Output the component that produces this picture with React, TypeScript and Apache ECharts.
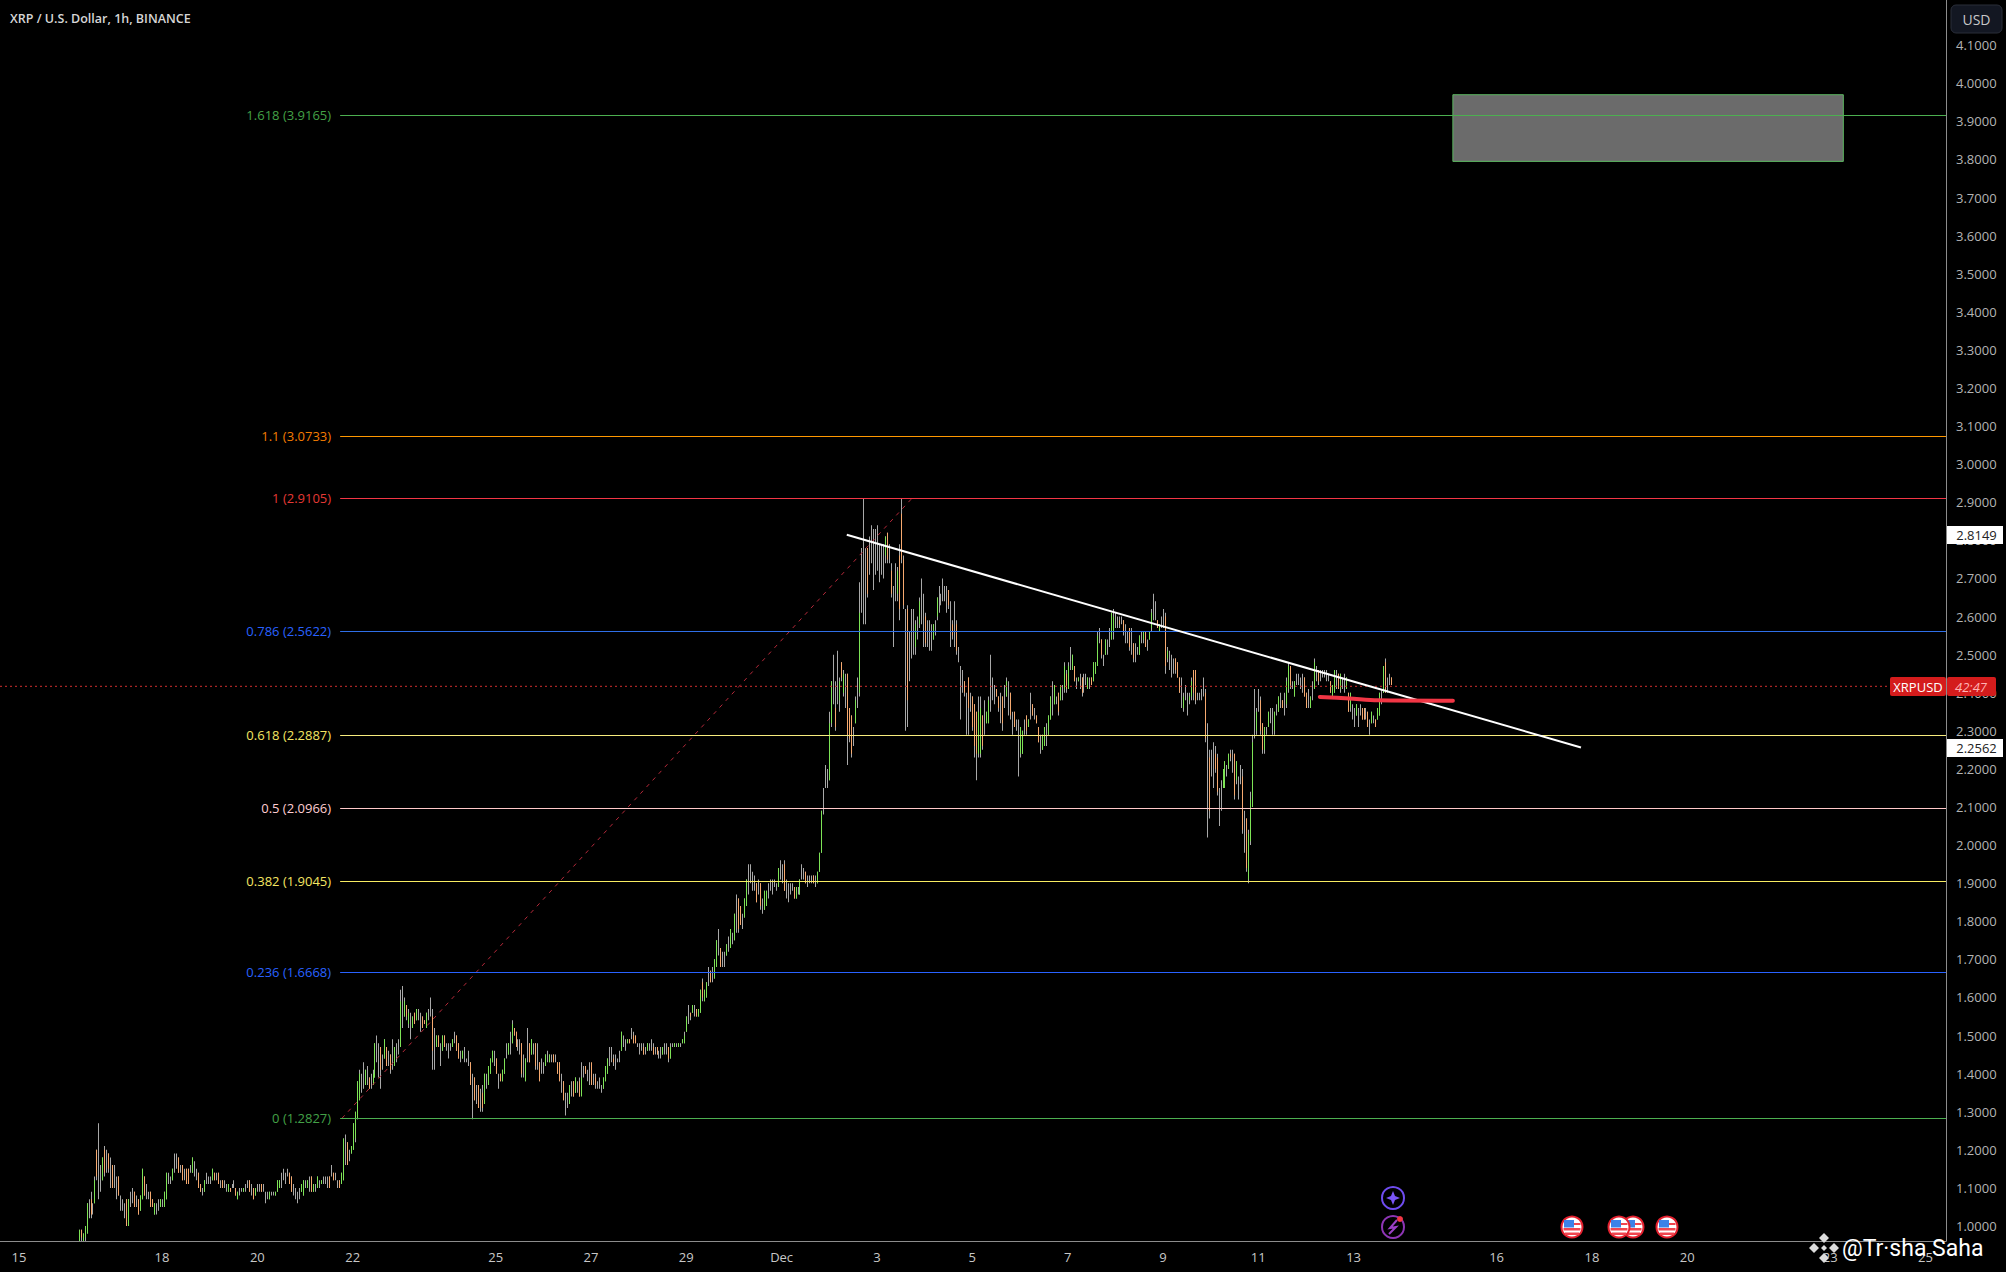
import React, { useEffect, useRef } from "react";
import * as echarts from "echarts";

// Hourly bars. Prices are in US cents. First bar: 16 Nov 06:00.
const firstBarHour = 30;
const highs = [
99,99,98,100,106,107,109,106,113,120,127,116,118,121,120,119,118,116,
116,113,113,108,107,106,107,107,109,110,109,108,107,108,115,113,111,109,109,107,106,106,107,107,
107,109,114,114,113,115,119,119,118,116,116,115,115,115,116,118,117,115,114,111,110,112,114,113,
113,115,114,114,114,112,112,112,111,111,110,111,112,110,109,110,110,110,111,112,112,111,110,110,
111,111,111,111,109,109,109,109,109,109,112,112,114,115,114,115,114,113,111,110,109,110,111,112,
112,112,113,113,111,111,113,112,112,113,113,113,113,116,114,114,112,112,114,123,124,122,120,121,127,
130,138,141,140,143,141,142,139,140,141,148,150,148,147,145,149,147,146,145,149,147,148,149,162,
163,160,158,157,156,155,156,157,157,156,155,154,156,157,160,157,152,150,150,148,150,150,148,148,
148,149,151,150,148,146,146,147,144,146,143,140,139,137,137,136,137,140,140,142,144,146,146,144,
140,140,141,144,148,148,151,154,152,151,149,149,148,145,144,152,148,149,148,148,148,143,144,143,
145,146,145,145,145,145,143,143,140,138,135,135,137,138,138,139,138,139,143,142,142,141,143,140,
140,140,138,139,137,139,142,144,147,147,145,145,144,146,151,150,149,149,149,152,151,150,148,148,
148,148,147,148,148,149,148,147,147,146,147,147,148,148,147,148,148,148,148,148,148,149,151,155,158,156,158,158,157,157,
162,165,162,164,168,167,168,170,175,178,173,172,172,174,176,178,177,182,187,186,184,182,186,191,195,
195,193,192,190,191,190,186,188,188,190,191,191,191,190,194,196,195,196,191,190,190,190,189,189,
189,191,195,194,193,192,192,192,192,192,193,198,
209,215,221,220,235,243,250,243,251,244,248,246,245,245,236,234,231,239,244,269,278,291,278,278,
281,284,283,283,284,279,279,279,281,282,279,274,268,274,273,279,291,276,262,263,256,262,262,259,
260,265,270,266,261,259,259,258,258,259,265,268,266,270,268,268,267,264,259,264,259,252,247,246,
243,240,244,240,239,237,235,239,239,234,238,235,239,250,244,242,241,239,240,239,242,244,243,240,
235,235,233,233,231,230,233,234,233,240,237,236,234,231,229,229,231,232,234,239,243,242,239,240,
242,242,248,246,248,252,250,247,244,244,245,244,245,245,244,244,244,248,248,256,257,254,250,254,
254,257,261,262,261,260,260,260,259,258,256,257,257,253,253,252,255,256,256,256,254,256,
262,266,264,259,258,260,262,261,252,251,250,249,249,248,244,244,240,242,240,240,244,246,246,240,
240,241,244,241,232,225,225,227,226,224,215,217,220,222,221,224,225,225,224,222,218,221,220,209,
207,204,214,229,241,236,241,239,232,231,231,235,236,236,235,237,239,240,238,240,244,248,247,243,
243,245,245,244,245,244,240,241,239,243,249,247,246,246,246,246,246,245,243,242,246,246,245,245,244,
245,244,240,240,237,236,237,236,237,236,236,236,235,233,235,234,233,236,240,241,247,249,244,245,244,
];
const lows = [
96,96,96,96,98,102,102,103,106,112,107,109,112,113,114,114,110,110,
110,107,108,104,104,102,100,100,105,106,105,105,103,104,107,108,107,107,105,105,103,103,104,105,
105,105,107,111,111,112,114,115,114,114,112,112,111,111,114,114,113,112,110,109,108,109,111,111,
111,112,112,112,111,110,110,110,109,109,109,110,110,108,107,108,109,109,109,110,109,108,107,108,
109,109,109,109,106,107,107,108,108,108,109,110,110,112,111,113,111,109,108,107,106,107,109,108,
110,110,109,109,109,109,110,110,111,111,111,110,110,113,112,112,110,110,111,112,116,116,117,119,120,
122,128,133,135,136,137,137,136,136,137,139,143,139,136,141,144,142,142,140,141,142,143,145,147,
152,155,154,152,149,152,153,154,154,151,152,153,152,154,155,141,141,147,147,142,146,147,146,144,
146,147,148,146,144,143,144,143,143,142,137,128,133,132,131,130,130,132,136,137,140,143,142,140,
136,138,138,140,144,145,145,148,150,147,146,145,139,139,138,143,143,145,145,141,141,138,140,140,
142,143,143,143,143,143,140,138,135,133,129,131,132,134,134,135,135,134,138,139,140,138,137,137,
137,136,136,136,135,136,138,140,142,143,142,141,143,143,146,147,146,148,148,149,148,148,147,145,
146,145,145,146,146,146,145,145,145,144,144,145,145,145,143,144,147,147,147,147,147,148,148,151,153,154,156,155,155,155,
156,159,159,160,163,164,164,165,168,171,168,168,168,171,172,173,174,175,177,177,179,178,181,184,187,
190,188,188,185,187,183,182,183,184,186,188,187,189,188,189,191,190,188,186,185,187,188,186,186,
187,187,191,191,190,189,190,190,190,189,190,193,
198,208,215,215,217,231,237,230,237,235,243,239,236,221,227,223,226,232,236,239,261,258,258,265,
271,274,267,271,272,269,271,270,274,274,274,265,252,264,264,259,274,262,230,231,243,249,250,250,
254,257,258,252,252,252,251,251,254,255,259,261,263,264,264,261,262,252,254,252,250,248,233,240,
239,229,229,235,230,223,217,223,223,225,229,232,232,235,238,237,239,235,232,230,236,239,234,233,
229,231,230,218,223,224,229,229,231,233,234,233,232,227,224,225,226,226,229,233,234,237,237,234,
238,238,240,240,241,246,246,243,241,243,241,239,240,242,241,241,242,243,245,247,253,249,247,250,
250,252,254,254,257,257,257,258,255,253,253,251,250,248,248,250,250,253,253,252,251,254,
256,259,259,257,256,257,257,245,248,246,244,245,245,244,240,236,235,238,234,237,238,238,237,238,
238,238,239,227,202,207,218,215,219,213,205,209,215,215,218,220,222,219,212,216,212,216,203,198,
193,190,200,210,228,229,235,229,224,224,229,231,232,229,229,234,235,236,236,234,236,240,241,241,
239,242,242,241,240,239,236,236,236,238,241,243,242,243,244,244,243,243,240,239,240,241,241,240,241,
240,241,235,235,233,231,234,231,234,233,233,233,231,229,232,232,231,233,234,237,240,240,240,242,242,
];
const opens = [
96,99,96,97,98,104,107,105,106,120,112,112,112,120,117,119,114,116,
113,110,113,106,105,104,107,100,107,108,109,106,107,104,107,113,109,108,109,107,103,104,105,105,
106,105,107,112,112,112,116,117,118,115,116,113,115,115,115,114,115,113,114,111,109,109,112,112,
112,112,114,113,114,111,112,111,110,109,110,110,111,110,107,109,109,109,110,111,112,109,110,108,
110,110,111,110,108,108,107,108,108,108,109,110,112,113,112,114,114,113,110,108,108,108,109,108,
111,110,111,113,109,110,110,111,111,112,112,111,113,114,114,113,111,112,111,112,120,122,118,119,120,
123,128,133,138,140,137,140,139,138,137,139,146,144,147,143,144,147,144,145,145,142,146,147,147,
158,155,158,153,153,152,156,154,155,153,155,154,152,155,157,155,148,147,150,146,146,150,147,146,
147,147,150,150,148,145,144,145,144,144,143,135,139,134,137,133,135,132,138,137,140,143,144,144,
138,140,138,140,146,145,148,148,152,151,147,147,148,142,138,147,148,145,146,148,144,143,142,141,
142,144,143,144,145,144,143,143,137,138,131,133,132,136,138,135,136,138,134,140,142,141,140,143,
138,139,137,137,136,136,138,140,144,145,144,143,143,144,146,148,148,148,149,150,150,150,147,146,
147,147,146,146,147,147,147,146,147,145,146,145,146,146,147,144,147,147,147,147,147,148,148,151,155,156,156,157,157,155,
156,164,159,160,165,167,166,165,168,174,173,170,170,171,174,173,175,175,182,186,184,180,181,184,191,
192,190,190,190,189,190,184,183,184,188,190,189,190,189,189,193,192,195,188,187,188,189,189,186,
188,187,193,192,193,190,191,191,192,190,190,193,
198,212,218,218,217,232,244,236,244,238,248,240,240,245,236,234,228,232,240,240,270,275,268,278,
276,279,275,277,278,274,275,275,276,282,277,272,260,269,266,276,287,275,246,262,250,255,256,252,
257,258,264,259,260,256,255,254,254,257,260,265,265,267,266,265,267,258,258,258,258,250,240,243,
243,235,244,237,239,237,235,224,224,234,233,232,232,242,241,239,241,239,236,239,239,239,238,240,
232,235,232,226,224,224,231,234,231,236,237,234,234,231,226,225,226,229,229,233,238,237,238,240,
238,240,241,245,241,249,246,247,242,243,243,244,242,243,241,242,244,243,245,247,255,254,248,250,
252,254,254,256,259,258,259,259,259,255,255,257,254,253,250,251,250,254,254,256,253,254,
257,262,261,259,256,258,259,260,249,248,247,247,249,248,244,240,236,240,237,238,239,246,246,239,
239,240,241,240,215,223,221,221,224,223,210,213,215,215,219,220,224,222,224,217,215,218,218,203,
207,191,201,210,235,230,238,238,232,225,230,231,234,233,230,235,235,238,238,237,237,241,247,242,
239,243,244,243,243,244,240,239,236,240,241,245,246,245,245,245,245,244,243,239,240,244,245,241,243,
242,241,240,236,235,233,234,233,235,236,236,235,235,231,232,233,233,233,234,239,240,248,242,244,244,
];
const closes = [
99,97,98,100,106,104,103,105,112,113,112,112,118,114,117,115,114,110,
113,110,108,106,105,104,100,107,107,108,105,106,103,108,115,108,109,108,105,105,106,104,105,107,
106,109,114,112,112,115,116,117,114,115,112,113,111,111,115,118,115,113,110,109,109,112,112,112,
112,115,112,113,111,111,110,111,110,111,109,110,111,108,109,109,109,110,110,111,109,109,107,110,
110,110,109,110,108,108,109,108,108,109,112,112,112,113,112,114,111,109,110,108,108,108,111,112,
111,112,111,109,111,110,113,111,112,112,112,111,110,114,112,113,111,110,114,123,120,116,118,121,127,
130,138,140,138,140,141,140,136,138,140,148,146,144,141,143,149,142,144,141,145,147,146,147,159,
158,159,155,156,153,155,153,157,155,153,152,153,156,155,157,146,148,150,147,146,150,147,147,146,
147,149,150,146,144,145,146,145,144,144,137,135,133,134,131,133,131,140,138,142,144,146,144,140,
138,138,141,144,146,148,148,153,150,147,147,147,140,142,144,147,143,149,146,142,144,138,142,141,
145,144,145,144,143,144,140,138,137,133,131,133,137,136,134,139,136,134,139,140,140,141,140,137,
138,137,137,137,136,139,142,144,144,145,143,143,143,144,151,148,148,149,148,150,148,148,147,146,
147,145,146,148,147,147,145,146,145,145,146,147,146,146,144,147,147,148,147,148,147,149,150,155,155,155,158,157,155,157,
162,160,162,164,165,164,166,170,175,174,168,170,170,174,174,178,175,182,182,178,179,180,186,191,191,
192,190,190,185,189,184,184,188,188,188,190,189,190,189,194,193,192,188,188,187,188,189,186,189,
188,191,193,192,190,190,191,191,190,190,193,198,
209,212,218,218,232,243,244,231,244,243,244,245,240,229,228,224,228,238,240,261,270,275,268,266,
276,279,275,277,278,274,275,275,281,275,277,266,260,269,272,262,275,263,246,238,250,255,256,258,
257,264,264,259,253,256,255,254,258,257,265,265,265,267,266,265,263,258,255,258,251,250,240,243,
240,235,236,237,231,226,224,235,236,226,233,235,238,242,241,239,239,236,236,232,239,243,238,234,
232,231,232,226,231,230,231,230,233,236,234,234,232,227,226,229,231,229,234,239,238,242,238,235,
242,240,247,241,247,249,250,243,242,244,243,240,242,243,244,242,242,248,248,255,255,250,248,254,
252,254,261,260,259,258,258,259,256,255,255,252,254,249,250,251,255,254,256,252,253,256,
261,262,261,257,258,258,259,247,251,248,247,247,246,244,240,240,239,240,237,239,243,240,238,239,
239,240,241,228,215,209,221,221,220,214,210,213,220,222,219,224,223,222,213,222,215,218,204,203,
194,203,212,227,235,235,238,230,225,231,230,235,234,233,235,235,239,238,236,237,243,247,242,242,
243,243,244,243,243,239,236,239,239,240,248,245,243,245,245,245,245,244,240,242,246,244,241,245,243,
242,244,235,240,235,233,237,233,235,233,233,235,231,231,235,233,231,236,240,239,247,240,242,244,242,
];

const yTicks = [1.0,1.1,1.2,1.3,1.4,1.5,1.6,1.7,1.8,1.9,2.0,2.1,2.2,2.3,2.4,2.5,2.6,2.7,2.8,2.9,3.0,3.1,3.2,3.3,3.4,3.5,3.6,3.7,3.8,3.9,4.0,4.1];
const xTickHours = [0,72,120,168,240,288,336,384,432,480,528,576,624,672,744,792,840,912,960];
const xTickLabels = ["15","18","20","22","25","27","29","Dec","3","5","7","9","11","13","16","18","20","23","25"];

const fibRatios = ["1.618","1.1","1","0.786","0.618","0.5","0.382","0.236","0"];
const fibPrices = [3.9165,3.0733,2.9105,2.5622,2.2887,2.0966,1.9045,1.6668,1.2827];
const fibColors = ["#4caf50","#ff9800","#f23645","#2f6fe8","#f7ec7e","#ffc9c9","#f7ec62","#2962ff","#4caf50"];
const fibTextColors = ["#43a047","#f57c00","#e53935","#2962ff","#f5e663","#ffcdd2","#f5e663","#2962ff","#43a047"];

const trendLine = [[416.8,2.8149],[786.5,2.2562]];
const redStroke = [[655,2.389],[670,2.385],[684,2.380],[722,2.379]];
const fibDiagonal = [[162.6,1.2827],[450.2,2.9137]];
const lastPriceLine = [[-9.57,2.4169],[941,2.4169]];
const targetBox = [[722,3.97],[918.6,3.795]];

const FONT = '"Open Sans", sans-serif';
const US_FLAG_X = [1572, 1633, 1619, 1667];

function flag(cx: number, cy: number) {
  return {
    type: "group", x: cx, y: cy, z: 20,
    children: [
      { type: "circle", shape: { cx: 0, cy: 0, r: 10.5 }, style: { fill: "#ffffff", stroke: "#e3202e", lineWidth: 2 } },
      { type: "rect", shape: { x: -8.5, y: 1, width: 17, height: 2.5 }, style: { fill: "#f0454f" } },
      { type: "rect", shape: { x: -7, y: 5.5, width: 14, height: 2.5 }, style: { fill: "#f0454f" } },
      { type: "rect", shape: { x: -8, y: -7, width: 10, height: 7.5 }, style: { fill: "#3b82e8" } },
      { type: "rect", shape: { x: 2, y: -4, width: 6.5, height: 2 }, style: { fill: "#f0454f" } },
    ],
  };
}

function diamond(cx: number, cy: number, r: number, fill: string) {
  return { type: "polygon", z: 20, shape: { points: [[cx, cy - r], [cx + r, cy], [cx, cy + r], [cx - r, cy]] }, style: { fill } };
}

function label(text: string, x: number, y: number, fill: string, font: string, align = "center") {
  return { type: "text", x, y, z: 21, style: { text, fill, font, textAlign: align, textVerticalAlign: "middle" } };
}

export default function App() {
  const ref = useRef<HTMLDivElement>(null);
  useEffect(() => {
    document.body.style.margin = "0";
    document.body.style.background = "#000";
    const chart = echarts.init(ref.current!, undefined, { renderer: "svg" });
    const bars = highs.map((h, i) => [firstBarHour + i, opens[i] / 100, closes[i] / 100, lows[i] / 100, h / 100]);
    const renderBar = (_: any, api: any) => {
      const hour = api.value(0);
      const o = api.value(1), c = api.value(2), l = api.value(3), h = api.value(4);
      const top = api.coord([hour, h]);
      const bottom = api.coord([hour, l]);
      const x = Math.round(top[0]) - 0.0;
      const children: any[] = [
        { type: "rect", shape: { x, y: top[1], width: 1, height: bottom[1] - top[1] }, style: { fill: "#a8a8a8" } },
      ];
      if (o !== c) {
        const a = api.coord([hour, Math.max(o, c)]);
        const b = api.coord([hour, Math.min(o, c)]);
        children.push({ type: "rect", shape: { x, y: a[1], width: 1, height: b[1] - a[1] }, style: { fill: c > o ? "#7de356" : "#f6a96f" } });
      }
      return { type: "group", children };
    };
    const option: any = {
      animation: false,
      backgroundColor: "#000000",
      grid: { left: 0, top: 0, right: 60, bottom: 31, containLabel: false },
      xAxis: {
        type: "value", min: -9.57, max: 970.3, splitLine: { show: false },
        axisLine: { onZero: false, lineStyle: { color: "#8c8c8c", width: 1 } }, axisTick: { show: false },
        axisLabel: {
          customValues: xTickHours, margin: 9, color: "#c8c8c8", fontFamily: FONT, fontSize: 13,
          formatter: (v: number) => xTickLabels[xTickHours.indexOf(v)] ?? "",
        },
      },
      yAxis: {
        type: "value", position: "right", min: 0.9606, max: 4.2187, splitLine: { show: false },
        axisLine: { show: true, onZero: false, lineStyle: { color: "#8c8c8c", width: 1 } }, axisTick: { show: false },
        axisLabel: {
          customValues: yTicks, margin: 10, color: "#b4b4b4", fontFamily: FONT, fontSize: 13,
          formatter: (v: number) => v.toFixed(4),
        },
      },
      series: [
        {
          type: "line", data: [], z: 1, silent: true,
          markArea: {
            silent: true,
            itemStyle: { color: "#6b6b6b", borderColor: "#5cb860", borderWidth: 1 },
            data: [[{ coord: targetBox[0] }, { coord: targetBox[1] }]],
          },
        },
        { type: "custom", z: 2, clip: true, silent: true, renderItem: renderBar, data: bars },
        {
          type: "line", data: [], z: 3, silent: true,
          markLine: {
            silent: true, symbol: "none", animation: false,
            data: fibRatios.map((r, i) => [
              {
                coord: [161.7, fibPrices[i]],
                lineStyle: { color: fibColors[i], width: 1, type: "solid" },
                label: { show: true, position: "start", distance: 9, color: fibTextColors[i], fontFamily: FONT, fontSize: 13, formatter: `${r} (${fibPrices[i].toFixed(4)})` },
              },
              { coord: [970.3, fibPrices[i]] },
            ]),
          },
        },
        { type: "line", z: 4, silent: true, symbol: "none", data: lastPriceLine, lineStyle: { color: "#d32f2f", width: 1, type: [2, 3] } },
        { type: "line", z: 4, silent: true, symbol: "none", data: fibDiagonal, lineStyle: { color: "#b5293a", width: 1, type: [4, 5] } },
        { type: "line", z: 5, silent: true, symbol: "none", data: trendLine, lineStyle: { color: "#ffffff", width: 2 } },
        { type: "line", z: 6, silent: true, symbol: "none", smooth: 0.3, data: redStroke, lineStyle: { color: "#f23645", width: 4, cap: "round" } },
      ],
      graphic: { elements: [
        label("XRP / U.S. Dollar, 1h, BINANCE", 10, 18, "#d6d6d6", `600 12.5px ${FONT}`, "left"),
        { type: "rect", z: 20, shape: { x: 1951, y: 5, width: 51, height: 28, r: 5 }, style: { fill: "#131722", stroke: "#2a2e39", lineWidth: 1 } },
        label("USD", 1976.5, 19, "#c8c8c8", `14px ${FONT}`),
        { type: "rect", z: 20, shape: { x: 1947, y: 526, width: 56, height: 18 }, style: { fill: "#ffffff" } },
        label("2.8149", 1976.5, 535, "#222222", `13px ${FONT}`),
        { type: "rect", z: 20, shape: { x: 1947, y: 739, width: 56, height: 18 }, style: { fill: "#ffffff" } },
        label("2.2562", 1976.5, 748, "#222222", `13px ${FONT}`),
        { type: "rect", z: 20, shape: { x: 1890, y: 677, width: 56, height: 19, r: 2 }, style: { fill: "#d41c1c" } },
        label("XRPUSD", 1918, 687, "#ffffff", `13px ${FONT}`),
        { type: "rect", z: 20, shape: { x: 1947, y: 677, width: 49, height: 19, r: 2 }, style: { fill: "#d41c1c" } },
        label("42:47", 1971, 687, "#ffb3b3", `italic 13px ${FONT}`),
        { type: "circle", z: 20, shape: { cx: 1393, cy: 1198, r: 11 }, style: { fill: "#000", stroke: "#6f4cf0", lineWidth: 2 } },
        { type: "polygon", z: 21, shape: { points: [[1393,1191],[1395,1196],[1400,1198],[1395,1200],[1393,1205],[1391,1200],[1386,1198],[1391,1196]] }, style: { fill: "#7a55f5" } },
        { type: "circle", z: 20, shape: { cx: 1393, cy: 1227, r: 11 }, style: { fill: "#000", stroke: "#8e35b5", lineWidth: 2 } },
        { type: "polyline", z: 21, shape: { points: [[1397,1220],[1390,1228],[1396,1227],[1389,1234]] }, style: { stroke: "#9a40c5", lineWidth: 2, fill: "none" } },
        { type: "circle", z: 22, shape: { cx: 1400, cy: 1219, r: 3 }, style: { fill: "#f23645" } },
        ...US_FLAG_X.map((x) => flag(x, 1227)),
        diamond(1824, 1238, 5, "#dcdcdc"), diamond(1814, 1248, 5, "#dcdcdc"), diamond(1834, 1248, 5, "#dcdcdc"),
        diamond(1824, 1258, 5, "#dcdcdc"), diamond(1824, 1248, 3, "#dcdcdc"),
        label("@Tr\u00b7sha Saha", 1842, 1248, "#ffffff", `23px Roboto, sans-serif`, "left"),
      ] },
    };
    chart.setOption(option);
    return () => chart.dispose();
  }, []);
  return <div ref={ref} style={{ position: "absolute", left: 0, top: 0, width: 2006, height: 1272 }} />;
}
